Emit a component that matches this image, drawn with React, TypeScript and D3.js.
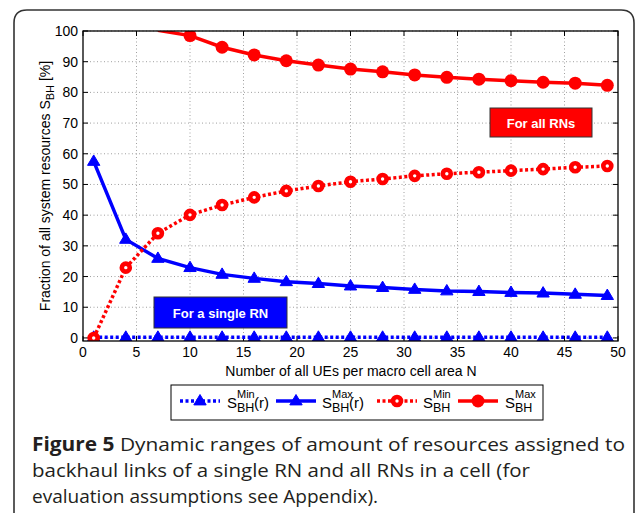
import React from "react";
import * as d3 from "d3";

const N = [1, 4, 7, 10, 13, 16, 19, 22, 25, 28, 31, 34, 37, 40, 43, 46, 49];
const blueMin = [0.2, 0.2, 0.2, 0.2, 0.2, 0.2, 0.2, 0.2, 0.2, 0.2, 0.2, 0.2, 0.2, 0.2, 0.2, 0.2, 0.2];
const blueMax = [57.5, 32.1, 25.9, 22.9, 20.7, 19.4, 18.3, 17.7, 16.9, 16.4, 15.8, 15.3, 15.1, 14.8, 14.6, 14.2, 13.8];
const redMin = [0, 22.9, 34.1, 40.1, 43.3, 45.8, 47.9, 49.5, 50.9, 51.8, 52.8, 53.5, 54.0, 54.5, 55.0, 55.6, 56.0];
const redMax: (number | null)[] = [null, null, 100.2, 98.5, 94.7, 92.2, 90.3, 88.9, 87.6, 86.7, 85.7, 84.9, 84.3, 83.8, 83.3, 83.0, 82.3];

const xTicks = [0, 5, 10, 15, 20, 25, 30, 35, 40, 45, 50];
const yTicks = [0, 10, 20, 30, 40, 50, 60, 70, 80, 90, 100];

const captionLines = [
  "Dynamic ranges of amount of resources assigned to",
  "backhaul links of a single RN and all RNs in a cell (for",
  "evaluation assumptions see Appendix).",
];

const BLUE = "#0000ff";
const RED = "#ff0000";
const FONT = "Liberation Sans, Arial, sans-serif";
const CAP_FONT = "Open Sans, Noto Sans, sans-serif";

const L = 83, R = 618, T = 31, B = 341;

export default function App() {
  const x = d3.scaleLinear().domain([0, 50]).range([L, R]);
  const y = d3.scaleLinear().domain([-1, 100]).range([B, T]);

  const mk = (vals: (number | null)[]) =>
    d3
      .line<number>()
      .defined((_, i) => vals[i] != null)
      .x((_, i) => x(N[i]))
      .y((_, i) => y(vals[i] as number))(N as any) || "";

  const tri = (cx: number, cy: number, s = 6.5) =>
    `M${cx},${cy - s} L${cx + s * 0.95},${cy + s * 0.6} L${cx - s * 0.95},${cy + s * 0.6} Z`;

  const series = [
    { vals: blueMin, color: BLUE, dash: "3,2.5", marker: "tri" },
    { vals: blueMax, color: BLUE, dash: null, marker: "tri" },
    { vals: redMin, color: RED, dash: "3,2.5", marker: "ocirc" },
    { vals: redMax, color: RED, dash: null, marker: "circ" },
  ];

  const drawMarker = (m: string, cx: number, cy: number, color: string, key: any) => {
    if (m === "tri") return <path key={key} d={tri(cx, cy)} fill={color} stroke={color} strokeWidth={1} />;
    if (m === "ocirc")
      return <circle key={key} cx={cx} cy={cy} r={4} fill="#fff" stroke={color} strokeWidth={4.6} />;
    return <circle key={key} cx={cx} cy={cy} r={6.5} fill={color} />;
  };

  const legendItems = [
    { lx: 180, sx: 227, sup: "Min", tail: "(r)", s: series[0] },
    { lx: 276, sx: 322, sup: "Max", tail: "(r)", s: series[1] },
    { lx: 377, sx: 423, sup: "Min", tail: "", s: series[2] },
    { lx: 458, sx: 505, sup: "Max", tail: "", s: series[3] },
  ];
  const ly = 401;

  return (
    <svg
      width={636}
      height={513}
      style={{ position: "absolute", left: 0, top: 0, background: "#fff", fontFamily: FONT }}
    >
      <rect x={0} y={0} width={636} height={513} fill="#fff" />
      <path d="M14,513 L14,23 Q14,10 27,10 L621,10 Q634,10 634,23 L634,513" fill="none" stroke="#333" strokeWidth={1.6} />

      <defs>
        <clipPath id="plot">
          <rect x={L} y={T} width={R - L} height={B - T} />
        </clipPath>
      </defs>

      {/* grid */}
      {xTicks.slice(1, -1).map((t) => (
        <line key={"gx" + t} x1={x(t)} x2={x(t)} y1={T} y2={B} stroke="#888" strokeWidth={0.8} strokeDasharray="1,2.5" />
      ))}
      {yTicks.map((t) => (
        <line key={"gy" + t} x1={L} x2={R} y1={y(t)} y2={y(t)} stroke="#888" strokeWidth={0.8} strokeDasharray="1,2.5" />
      ))}

      {/* ticks */}
      {xTicks.map((t) => (
        <g key={"tx" + t}>
          <line x1={x(t)} x2={x(t)} y1={B} y2={B - 5} stroke="#000" />
          <line x1={x(t)} x2={x(t)} y1={T} y2={T + 5} stroke="#000" />
          <text x={x(t)} y={357} fontSize={14} textAnchor="middle">{t}</text>
        </g>
      ))}
      {yTicks.map((t) => (
        <g key={"ty" + t}>
          <line x1={L} x2={L + 5} y1={y(t)} y2={y(t)} stroke="#000" />
          <line x1={R} x2={R - 5} y1={y(t)} y2={y(t)} stroke="#000" />
          <text x={78} y={y(t) + 5} fontSize={14} textAnchor="end">{t}</text>
        </g>
      ))}

      {/* series */}
      <g clipPath="url(#plot)">
        {series.map((s, si) => (
          <g key={"s" + si}>
            <path d={mk(s.vals)} fill="none" stroke={s.color} strokeWidth={3.5} strokeDasharray={s.dash || undefined} />
            {N.map((n, i) =>
              s.vals[i] != null && (s.vals[i] as number) <= 100
                ? drawMarker(s.marker, x(n), y(s.vals[i] as number), s.color, i)
                : null
            )}
          </g>
        ))}
      </g>

      <rect x={L} y={T} width={R - L} height={B - T} fill="none" stroke="#000" strokeWidth={1.3} />

      {/* annotations */}
      <rect x={490} y={108} width={102} height={29} fill={RED} stroke="#333" strokeWidth={1} />
      <text x={541} y={127.5} fontSize={13} fontWeight="bold" fill="#fff" textAnchor="middle">For all RNs</text>
      <rect x={154} y={297} width={133} height={31} fill={BLUE} stroke="#333" strokeWidth={1} />
      <text x={220.5} y={317.5} fontSize={13} fontWeight="bold" fill="#fff" textAnchor="middle">For a single RN</text>

      {/* axis labels */}
      <text x={351} y={376} fontSize={14} textAnchor="middle">Number of all UEs per macro cell area N</text>
      <text transform="translate(50,186) rotate(-90)" fontSize={14} textAnchor="middle">
        Fraction of all system resources S
        <tspan fontSize={11} dy={4}>BH</tspan>
        <tspan dy={-4}> [%]</tspan>
      </text>

      {/* legend */}
      <rect x={171} y={385} width={372} height={35} fill="#fff" stroke="#000" strokeWidth={1} />
      {legendItems.map((it, i) => (
        <g key={"lg" + i}>
          <line x1={it.lx} x2={it.lx + 40} y1={ly} y2={ly} stroke={it.s.color} strokeWidth={3.5} strokeDasharray={it.s.dash || undefined} />
          {drawMarker(it.s.marker, it.lx + 20, ly, it.s.color, "m")}
          <text x={it.sx} y={407.5} fontSize={15}>S</text>
          <text x={it.sx + 10} y={397.5} fontSize={11}>{it.sup}</text>
          <text x={it.sx + 10} y={411.5} fontSize={12.5}>BH</text>
          {it.tail && <text x={it.sx + 27} y={407.5} fontSize={15}>{it.tail}</text>}
        </g>
      ))}

      {/* caption */}
      <g fontSize={19} fill="#231f20" style={{ fontFamily: CAP_FONT }}>
        <text x={32} y={451} textLength={593} lengthAdjust="spacingAndGlyphs">
          <tspan fontWeight="bold">Figure 5 </tspan>
          <tspan>{captionLines[0]}</tspan>
        </text>
        <text x={32} y={477} textLength={498} lengthAdjust="spacingAndGlyphs">{captionLines[1]}</text>
        <text x={32} y={503} textLength={346} lengthAdjust="spacingAndGlyphs">{captionLines[2]}</text>
      </g>
    </svg>
  );
}
